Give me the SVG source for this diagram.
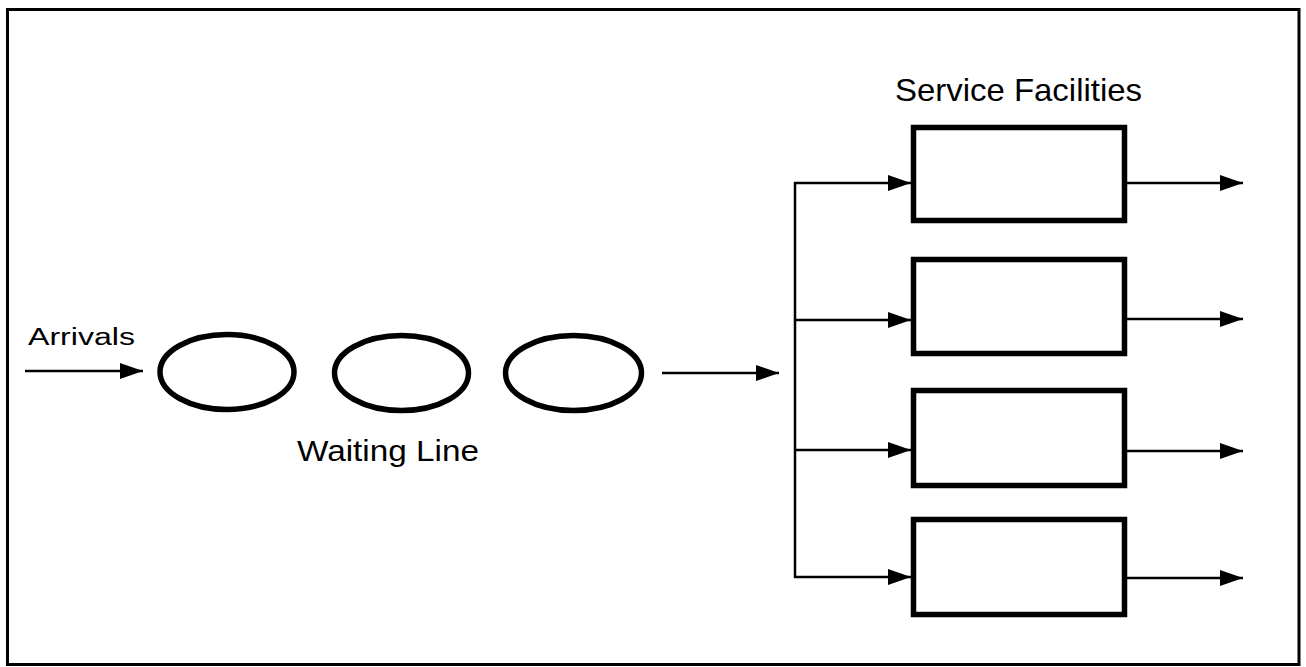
<svg xmlns="http://www.w3.org/2000/svg" width="1306" height="667" viewBox="0 0 1306 667">
<style>
.lbl{font-family:"Liberation Sans",Arial,sans-serif;fill:#000}
.node{fill:#fff;stroke:#000;stroke-width:5.5}
.conn{fill:none;stroke:#000;stroke-width:2.5}
</style>
<defs>
<marker id="ah" markerUnits="userSpaceOnUse" markerWidth="24" markerHeight="16" refX="23" refY="8" orient="auto">
<path d="M0,0 L23,8 L0,16 z" fill="#000"/>
</marker>
</defs>
<rect x="0" y="0" width="1306" height="667" fill="#fff"/>
<rect x="7.5" y="9.5" width="1291.5" height="655" fill="none" stroke="#000" stroke-width="3"/>
<g id="labels">
<text class="lbl" x="28" y="345" font-size="23" textLength="107" lengthAdjust="spacingAndGlyphs">Arrivals</text>
<text class="lbl" x="297" y="461" font-size="30" textLength="182" lengthAdjust="spacingAndGlyphs">Waiting Line</text>
<text class="lbl" x="895" y="101" font-size="32" textLength="247" lengthAdjust="spacingAndGlyphs">Service Facilities</text>
</g>
<g id="waiting1"><ellipse class="node" cx="227" cy="372" rx="67" ry="37.5"/></g>
<g id="waiting2"><ellipse class="node" cx="401.5" cy="373" rx="67" ry="37.5"/></g>
<g id="waiting3"><ellipse class="node" cx="573.5" cy="373" rx="68" ry="37.5"/></g>
<g id="server1"><rect class="node" x="913.5" y="127.5" width="211" height="93"/></g>
<g id="server2"><rect class="node" x="913.5" y="259.5" width="211" height="94"/></g>
<g id="server3"><rect class="node" x="913.5" y="390.5" width="211" height="95"/></g>
<g id="server4"><rect class="node" x="913.5" y="519.5" width="211" height="95"/></g>
<g id="connectors">
<line class="conn" x1="25" y1="371" x2="143" y2="371" marker-end="url(#ah)"/>
<line class="conn" x1="662" y1="373" x2="779" y2="373" marker-end="url(#ah)"/>
<line class="conn" x1="795" y1="182" x2="795" y2="578"/>
<line class="conn" x1="794" y1="183" x2="911" y2="183" marker-end="url(#ah)"/>
<line class="conn" x1="794" y1="320" x2="911" y2="320" marker-end="url(#ah)"/>
<line class="conn" x1="794" y1="450" x2="911" y2="450" marker-end="url(#ah)"/>
<line class="conn" x1="794" y1="577" x2="911" y2="577" marker-end="url(#ah)"/>
<line class="conn" x1="1127" y1="183" x2="1243" y2="183" marker-end="url(#ah)"/>
<line class="conn" x1="1127" y1="319" x2="1243" y2="319" marker-end="url(#ah)"/>
<line class="conn" x1="1127" y1="451" x2="1243" y2="451" marker-end="url(#ah)"/>
<line class="conn" x1="1127" y1="578" x2="1243" y2="578" marker-end="url(#ah)"/>
</g>
</svg>
